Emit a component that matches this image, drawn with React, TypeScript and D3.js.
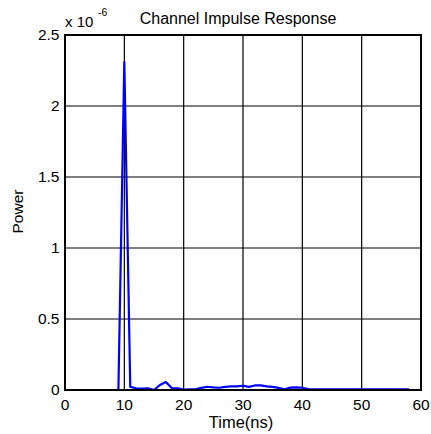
import React from "react";
import * as d3 from "d3";

// Channel impulse response samples (1 ns spacing), power in units of 1e-6
const timeNs = [1, 2, 3, 4, 5, 6, 7, 8, 9, 10, 11, 12, 13, 14, 15, 16, 17, 18, 19, 20,
  21, 22, 23, 24, 25, 26, 27, 28, 29, 30, 31, 32, 33, 34, 35, 36, 37, 38, 39, 40,
  41, 42, 43, 44, 45, 46, 47, 48, 49, 50, 51, 52, 53, 54, 55, 56, 57, 58];
const powerE6 = [0, 0, 0, 0, 0, 0, 0, 0, 0, 2.31, 0.022, 0.012, 0.01, 0.012, 0, 0.035, 0.056, 0.014, 0.012, 0.003,
  0.004, 0.005, 0.015, 0.023, 0.018, 0.016, 0.022, 0.025, 0.025, 0.03, 0.022, 0.032, 0.033, 0.026, 0.022, 0.015, 0.005, 0.017, 0.018, 0.016,
  0.006, 0.005, 0.005, 0.005, 0.005, 0.005, 0.005, 0.005, 0.005, 0.005, 0.005, 0.005, 0.005, 0.005, 0.005, 0.005, 0.005, 0.005];

const xTicks = [0, 10, 20, 30, 40, 50, 60];
const yTicks = [0, 0.5, 1, 1.5, 2, 2.5];

const W = 431;
const H = 434;
const left = 65;
const right = 421;
const top = 35;
const bottom = 390;
const font = "'Liberation Sans', Arial, sans-serif";

export default function App() {
  const x = d3.scaleLinear().domain([0, 60]).range([left, right]);
  const y = d3.scaleLinear().domain([0, 2.5]).range([bottom, top]);
  const line = d3
    .line<number>()
    .x((_, i) => x(timeNs[i]))
    .y((d) => y(d));

  return (
    <svg
      width={W}
      height={H}
      style={{ position: "absolute", left: 0, top: 0, background: "#fff" }}
      fontFamily={font}
    >
      <rect x={0} y={0} width={W} height={H} fill="#fff" />
      {/* grid */}
      {xTicks.map((t) => (
        <line key={"gx" + t} x1={x(t)} x2={x(t)} y1={top} y2={bottom} stroke="#000" strokeWidth={1.2} />
      ))}
      {yTicks.map((t) => (
        <line key={"gy" + t} x1={left} x2={right} y1={y(t)} y2={y(t)} stroke="#000" strokeWidth={1.2} />
      ))}
      {/* data */}
      <path d={line(powerE6) || ""} fill="none" stroke="#0000ff" strokeWidth={2.2} strokeLinejoin="round" />
      {/* frame */}
      <rect x={left} y={top} width={right - left} height={bottom - top} fill="none" stroke="#000" strokeWidth={2} />
      {/* tick labels */}
      {xTicks.map((t) => (
        <text key={"tx" + t} x={x(t)} y={410} fontSize={15.5} textAnchor="middle" fill="#000">
          {t}
        </text>
      ))}
      {yTicks.map((t) => (
        <text key={"ty" + t} x={59.5} y={y(t) + 5} fontSize={15.5} textAnchor="end" fill="#000">
          {t}
        </text>
      ))}
      {/* exponent */}
      <text x={65} y={26.5} fontSize={15} fill="#000">
        x 10
      </text>
      <text x={98} y={15.5} fontSize={10.5} fill="#000">
        -6
      </text>
      {/* title and axis labels */}
      <text x={238} y={24} fontSize={16} textAnchor="middle" fill="#000">
        Channel Impulse Response
      </text>
      <text x={241} y={428} fontSize={16.5} textAnchor="middle" fill="#000">
        Time(ns)
      </text>
      <text
        x={0}
        y={0}
        transform={`translate(22.7, ${(top + bottom) / 2 - 1}) rotate(-90)`}
        fontSize={15.5}
        textAnchor="middle"
        fill="#000"
      >
        Power
      </text>
    </svg>
  );
}
